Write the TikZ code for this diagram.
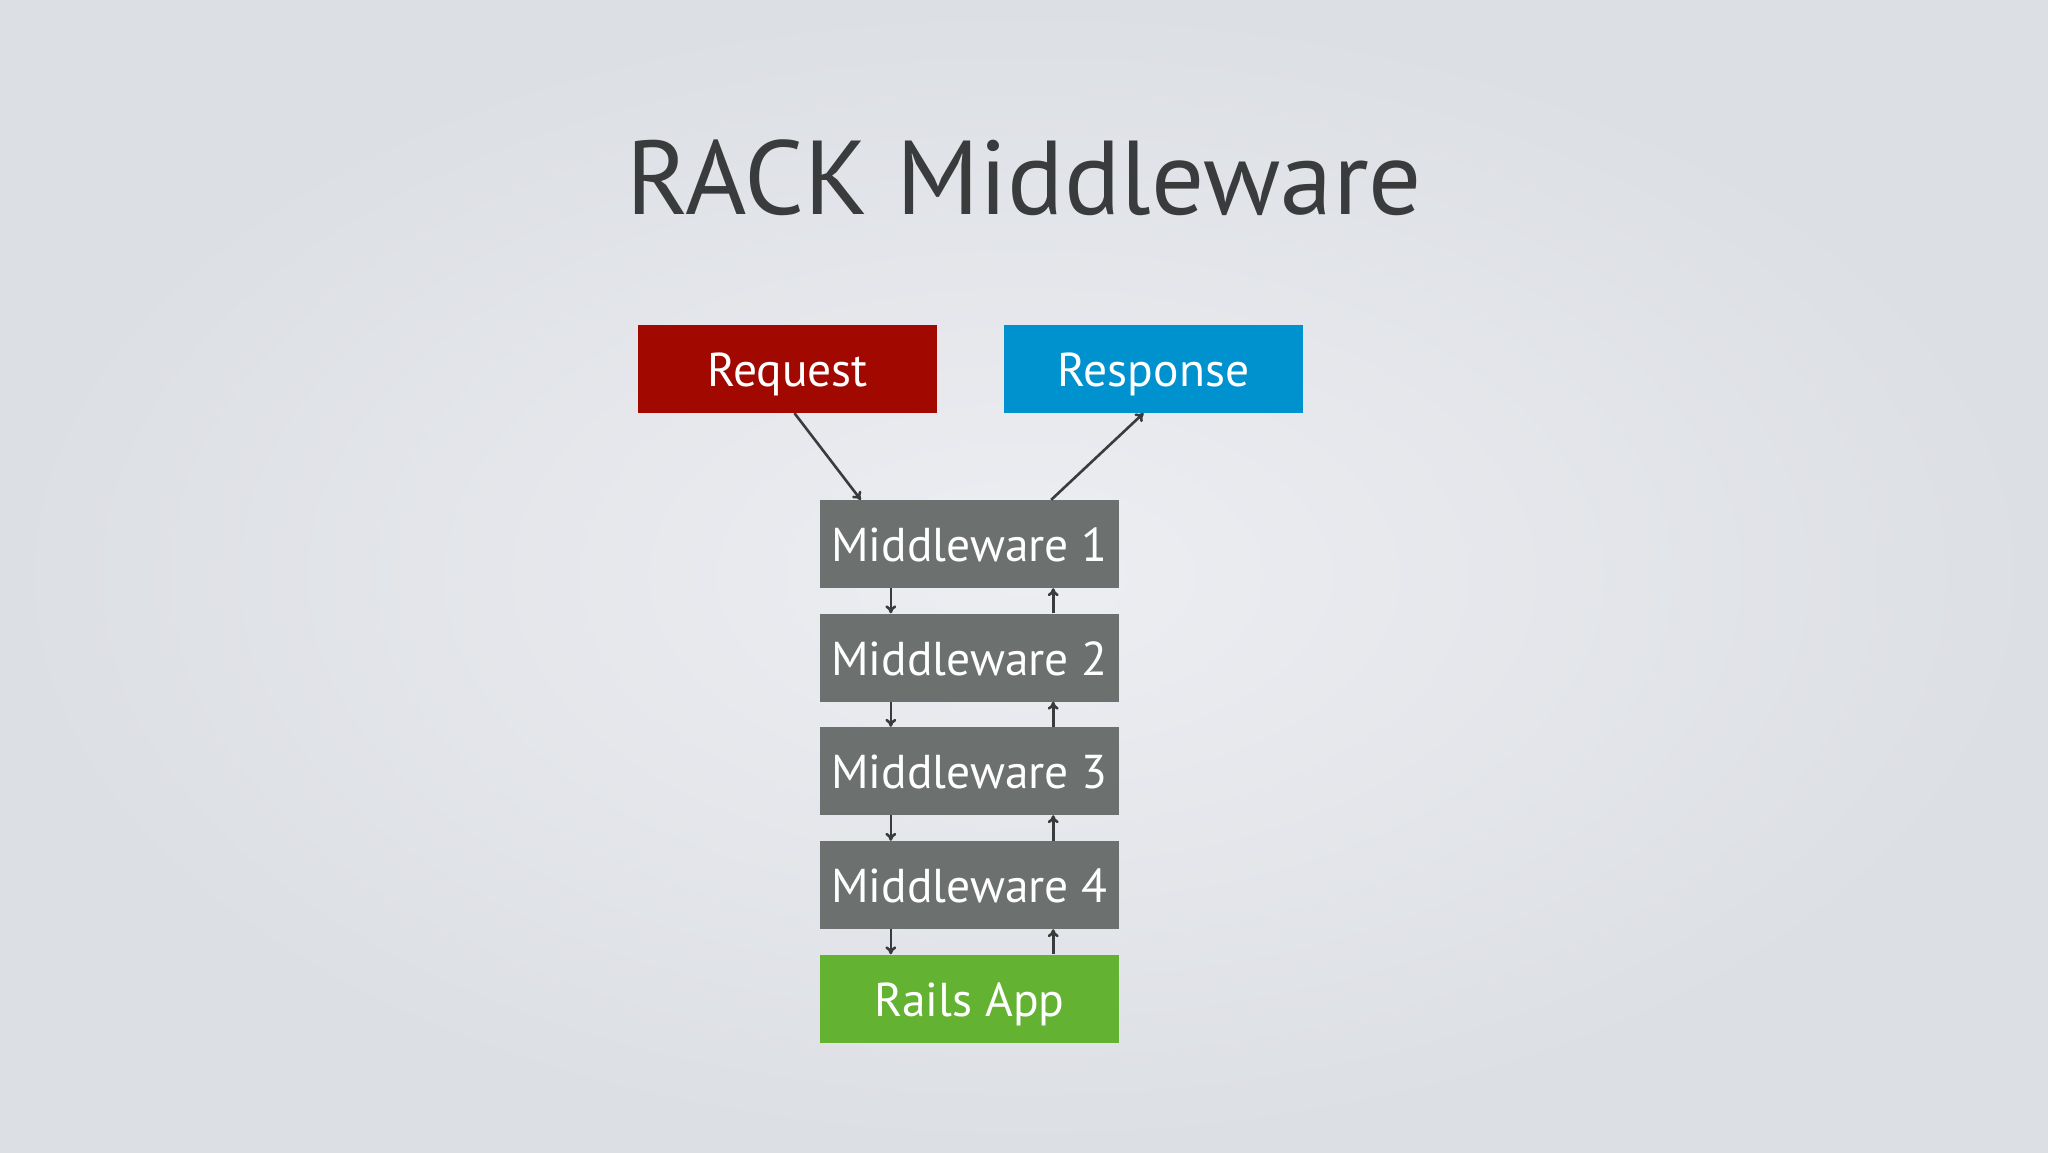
\documentclass[tikz,border=0pt]{standalone}
\usepackage{fontspec}
\setmainfont{PT Sans}
\usetikzlibrary{arrows.meta}

\definecolor{reqred}{HTML}{A10800}
\definecolor{resblue}{HTML}{0091CF}
\definecolor{mwgray}{HTML}{6C706F}
\definecolor{appgreen}{HTML}{64B232}
\definecolor{ink}{HTML}{3A3B3C}
\definecolor{bgin}{HTML}{EDEEF2}
\definecolor{bgout}{HTML}{DCDFE4}

\tikzset{
  box/.style={rectangle, minimum width=299pt, minimum height=88pt, inner sep=0pt,
    text=white, font=\fontsize{47.5}{50}\selectfont, text height=35pt, text depth=0pt},
  flow/.style={draw=ink, line width=2.6pt, -{To[length=8pt,width=11pt]}}
}

\begin{document}
\begin{tikzpicture}[x=1pt, y=-1pt]
				% background
				\useasboundingbox (0,0) rectangle (2048,1152);
				\shade[inner color=bgin, outer color=bgout] (0,0) rectangle (2048,1152);
				\node[text=ink, font=\fontsize{105}{110}\selectfont] (title) at (1024,178) {RACK Middleware};
				% request and response
				\node[box, fill=reqred] (req) at (787.5,369) {Request};
				\node[box, fill=resblue] (res) at (1153.5,369) {Response};
				% middleware stack
				\foreach \i/\y in {1/544,2/657.5,3/771,4/885}
					\node[box, fill=mwgray] (mw\i) at (969.5,\y) {Middleware \i};
				\node[box, fill=appgreen] (app) at (969.5,998.5) {Rails App};
				% connectors
				\draw[flow] ([xshift=7pt]req.south) -- ([xshift=41pt]mw1.north west);
				\draw[flow] ([xshift=-68pt]mw1.north east) -- ([xshift=-10pt]res.south);
				\foreach \a/\b in {mw1/mw2,mw2/mw3,mw3/mw4,mw4/app} {
					\draw[flow] ([xshift=71pt]\a.south west) -- ([xshift=71pt]\b.north west);
					\draw[flow] ([xshift=-66pt]\b.north east) -- ([xshift=-66pt]\a.south east);
				}
			\end{tikzpicture}
\end{document}
